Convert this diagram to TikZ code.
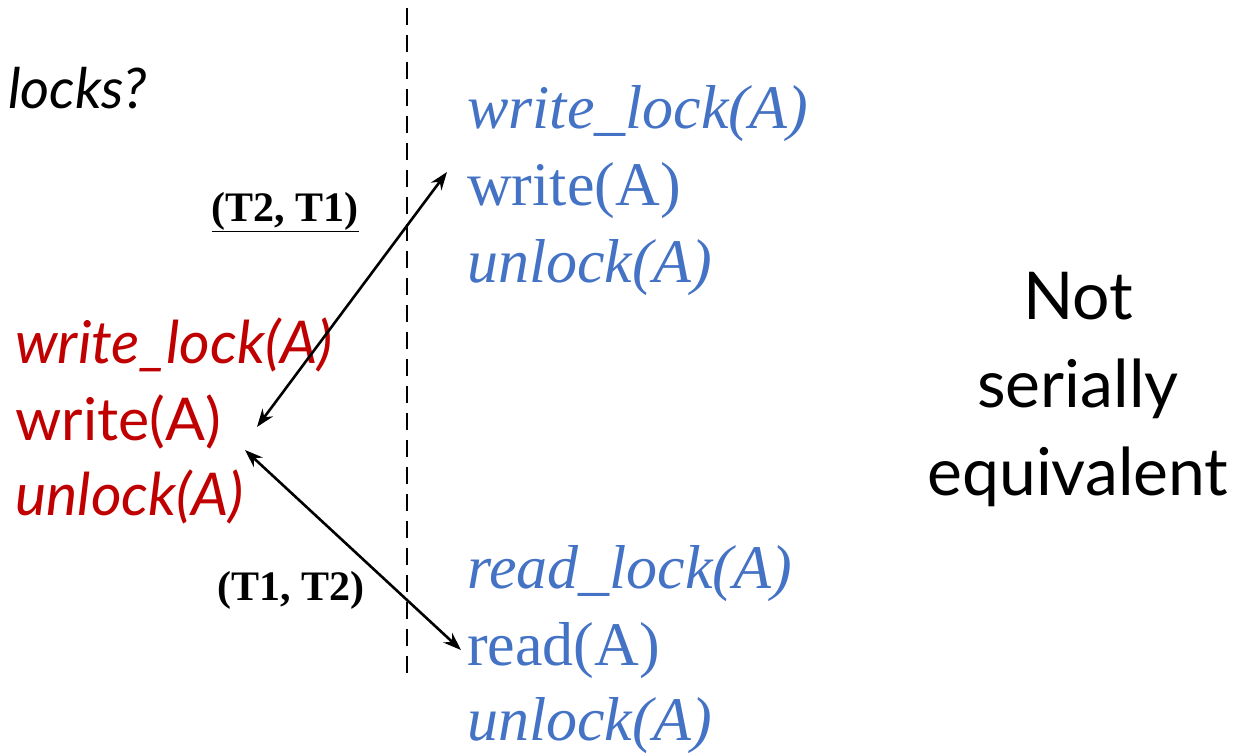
\documentclass[tikz,border=0pt]{standalone}
\usepackage{fontspec}
\setmainfont{Liberation Serif}
\newfontfamily\gill{Lato}
\usetikzlibrary{arrows.meta}
\definecolor{tblue}{RGB}{68,114,196}
\definecolor{tred}{RGB}{192,0,0}
\tikzset{
  blueop/.style={anchor=west,inner sep=0pt,text=tblue,font=\fontsize{62}{70}\selectfont},
  redop/.style={anchor=west,inner sep=0pt,text=tred,font=\gill\fontsize{59}{66}\selectfont},
  order/.style={inner sep=0pt,font=\fontsize{42}{48}\selectfont\bfseries},
  dep/.style={line width=2.6pt,{Stealth[length=18pt,width=13pt]}-{Stealth[length=18pt,width=13pt]}},
}
\begin{document}
\begin{tikzpicture}[x=1pt,y=-1pt]
	\useasboundingbox (0,0) rectangle (1238,754);
	\draw[line width=2.6pt,dash pattern=on 17pt off 10pt] (407,8) -- (407,675);
	\path (8,88) node[anchor=west,inner sep=0pt,font=\gill\itshape\fontsize{56}{64}\selectfont] (q) {locks?};
	% T2
	\path (467,114) node[blueop] (bwl) {\itshape write\_lock(A)};
	\path (467,191) node[blueop] (bw) {write(A)};
	\path (467,268) node[blueop] (bul) {\itshape unlock(A)};
	% T1
	\path (15,345) node[redop] (rwl) {\itshape write\_lock(A)};
	\path (15,422) node[redop] (rw) {write(A)};
	\path (15,497) node[redop] (rul) {\itshape unlock(A)};
	% T2 again
	\path (467,574) node[blueop] (brl) {\itshape read\_lock(A)};
	\path (467,651) node[blueop] (br) {read(A)};
	\path (467,726) node[blueop] (bu2) {\itshape unlock(A)};
	% orders
	\path (285,212) node[order] (o21) {\underline{(T2, T1)}};
	\path (291,590) node[order] (o12) {(T1, T2)};
	\draw[dep] ([shift={(-20,-19)}]bw.west) -- ([shift={(36,5)}]rw.east);
	\draw[dep] ([shift={(24,28)}]rw.east) -- ([shift={(-6,-1)}]br.west);
	\path (1078,390) node[align=center,inner sep=0pt,font=\gill\fontsize{66}{88}\selectfont] (res) {Not\\serially\\equivalent};
\end{tikzpicture}
\end{document}
